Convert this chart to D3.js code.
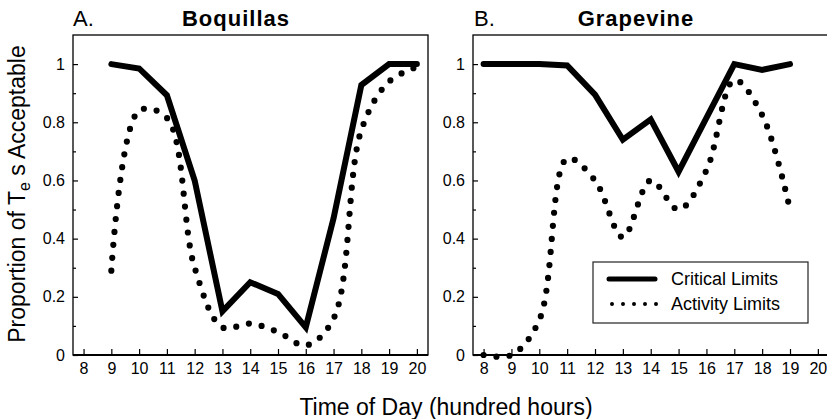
<!DOCTYPE html>
<html>
<head>
<meta charset="utf-8">
<script src="https://cdn.jsdelivr.net/npm/d3@7"></script>
<style>
  html, body { margin: 0; padding: 0; background: #fff; }
  svg { display: block; font-family: "Liberation Sans", Arial, Helvetica, sans-serif; }
  .tick text { font-size: 16px; fill: #000; font-family: "Liberation Sans", Arial, Helvetica, sans-serif; }
  .tick line { stroke: #000; stroke-width: 1.2; }
</style>
</head>
<body>
<svg id="chart" width="827" height="419"></svg>
<script>
// ---- data ----
const xTicks = [8, 9, 10, 11, 12, 13, 14, 15, 16, 17, 18, 19, 20];
const yTicks = [0, 0.2, 0.4, 0.6, 0.8, 1];
const yTickLabels = ["0", "0.2", "0.4", "0.6", "0.8", "1"];
const yMinorTicks = [0.1, 0.3, 0.5, 0.7, 0.9];

const boqHours    = [9, 10, 11, 12, 13, 14, 15, 16, 17, 18, 19, 20];
const boqCritical = [1.0, 0.985, 0.893, 0.60, 0.15, 0.25, 0.21, 0.095, 0.47, 0.928, 1.0, 1.0];
const boqActivity = [0.29, 0.84, 0.815, 0.30, 0.095, 0.108, 0.079, 0.033, 0.125, 0.773, 0.94, 0.99];

const grpHours    = [8, 9, 10, 11, 12, 13, 14, 15, 16, 17, 18, 19];
const grpCritical = [1.0, 1.0, 1.0, 0.995, 0.895, 0.74, 0.81, 0.63, 0.815, 1.0, 0.98, 1.0];
const grpActivity = [0.0, 0.0, 0.12, 0.675, 0.60, 0.405, 0.60, 0.50, 0.635, 0.945, 0.825, 0.50];

const panels = [
  { letter: "A.", title: "Boquillas", hours: boqHours, critical: boqCritical, activity: boqActivity,
    x0: 73, x1: 428, letterX: 73, titleX: 236 },
  { letter: "B.", title: "Grapevine", hours: grpHours, critical: grpCritical, activity: grpActivity,
    x0: 473, x1: 829, letterX: 474, titleX: 636 }
];

const svg = d3.select("#chart");
const yTop = 35, yBot = 355;
const y = d3.scaleLinear().domain([0, 1.1]).range([yBot, yTop]);

panels.forEach(p => {
  const x = d3.scaleLinear().domain([7.62, 20.4]).range([p.x0, p.x1]);
  const g = svg.append("g");

  // frame
  g.append("rect").attr("x", p.x0).attr("y", yTop)
    .attr("width", p.x1 - p.x0).attr("height", yBot - yTop)
    .attr("fill", "none").attr("stroke", "#000").attr("stroke-width", 1.3);
  g.append("line").attr("x1", p.x0).attr("x2", p.x1).attr("y1", yBot).attr("y2", yBot)
    .attr("stroke", "#000").attr("stroke-width", 2);

  // x axis
  const xa = g.append("g").attr("transform", `translate(0,${yBot})`)
    .call(d3.axisBottom(x).tickValues(xTicks).tickSize(-6).tickPadding(8).tickFormat(d3.format("d")));
  xa.select(".domain").remove();

  // y axis major
  const ya = g.append("g").attr("transform", `translate(${p.x0},0)`)
    .call(d3.axisLeft(y).tickValues(yTicks).tickSize(-5).tickPadding(8)
      .tickFormat((d, i) => yTickLabels[i]));
  ya.select(".domain").remove();
  // y axis minor
  const ym = g.append("g").attr("transform", `translate(${p.x0},0)`)
    .call(d3.axisLeft(y).tickValues(yMinorTicks).tickSize(-3).tickFormat(""));
  ym.select(".domain").remove();

  // activity (dotted)
  const actLine = d3.line().x((d, i) => x(p.hours[i])).y(d => y(d))
    .curve(d3.curveCatmullRom.alpha(0.5));
  g.append("path").attr("d", actLine(p.activity))
    .attr("fill", "none").attr("stroke", "#000").attr("stroke-width", 6.2)
    .attr("stroke-linecap", "round").attr("stroke-dasharray", "0 13");

  // critical (solid)
  const critLine = d3.line().x((d, i) => x(p.hours[i])).y(d => y(d));
  g.append("path").attr("d", critLine(p.critical))
    .attr("fill", "none").attr("stroke", "#000").attr("stroke-width", 6)
    .attr("stroke-linecap", "round").attr("stroke-linejoin", "miter");

  // titles
  svg.append("text").attr("x", p.letterX).attr("y", 26)
    .attr("font-size", 22).text(p.letter);
  svg.append("text").attr("x", p.titleX).attr("y", 26)
    .attr("font-size", 22).attr("font-weight", "bold").attr("letter-spacing", 1)
    .attr("text-anchor", "middle").text(p.title);
});

// legend
const lg = svg.append("g");
lg.append("rect").attr("x", 593).attr("y", 262).attr("width", 215).attr("height", 61)
  .attr("fill", "#fff").attr("stroke", "#222").attr("stroke-width", 1.2);
lg.append("line").attr("x1", 609).attr("x2", 655).attr("y1", 279).attr("y2", 279)
  .attr("stroke", "#000").attr("stroke-width", 5).attr("stroke-linecap", "round");
lg.append("line").attr("x1", 612).attr("x2", 657).attr("y1", 304).attr("y2", 304)
  .attr("stroke", "#000").attr("stroke-width", 4).attr("stroke-linecap", "round")
  .attr("stroke-dasharray", "0 11");
lg.append("text").attr("x", 671).attr("y", 285).attr("font-size", 18).text("Critical Limits");
lg.append("text").attr("x", 671).attr("y", 310).attr("font-size", 18).text("Activity Limits");

// axis titles
svg.append("text").attr("x", 446).attr("y", 415).attr("text-anchor", "middle")
  .attr("font-size", 23).text("Time of Day (hundred hours)");

const yt = svg.append("text").attr("transform", "translate(25,194) rotate(-90)")
  .attr("text-anchor", "middle").attr("font-size", 23);
yt.append("tspan").text("Proportion of T");
yt.append("tspan").attr("font-size", 16).attr("dy", 5).text("e");
yt.append("tspan").attr("dy", -5).text(" s Acceptable");
</script>
</body>
</html>
